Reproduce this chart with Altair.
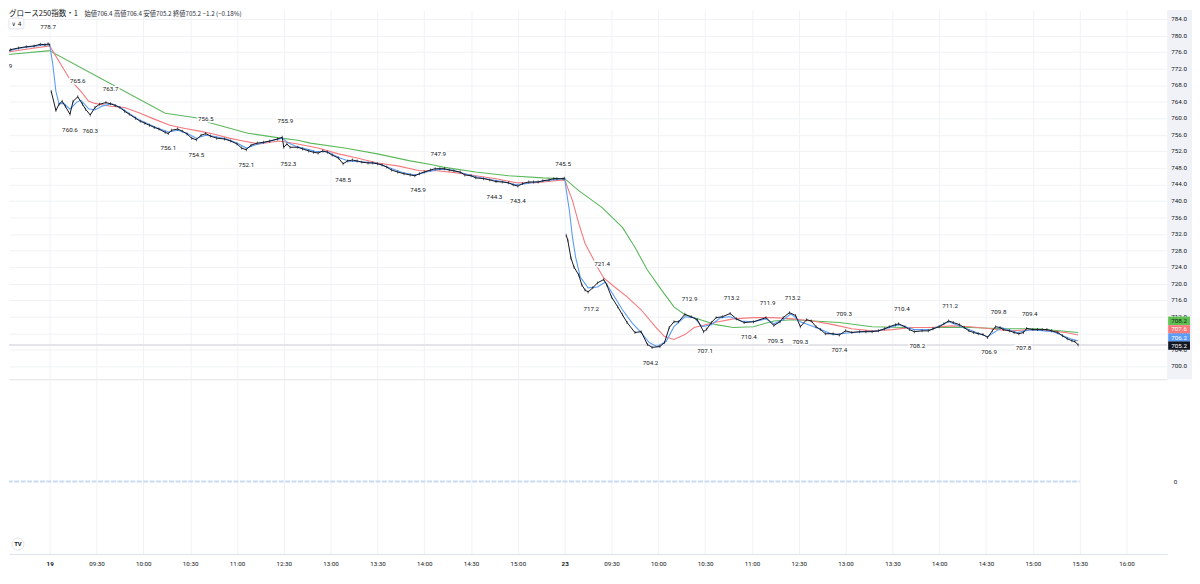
import altair as alt
import pandas as pd

# ---------------- data (minute index: 0 = 19th 09:00, 330 = 23rd 09:00) ----------------
PRICE_T = [-31, -29, -25, -20, -15, -10, -6, -3, -1, 0,
           1, 4, 6, 8, 10, 13, 15, 18, 21, 23, 26, 29, 32, 36, 39, 42, 45, 48, 51, 55, 58, 61, 64, 67, 70, 74, 76, 78,
           82, 85, 88, 91, 94, 97, 100, 103, 107, 112, 116, 120, 123, 126, 129, 133, 137, 141, 146, 149, 150, 152, 154,
           159, 162, 166, 169, 172, 175, 178, 181, 185, 188, 191, 194, 197, 200, 204, 207, 210, 213, 216, 219, 223, 227,
           231, 234, 237, 240, 244, 247, 250, 253, 256, 259, 263, 266, 270, 273, 278, 282, 286, 290, 294, 297, 300, 303,
           307, 310, 313, 316, 320, 323, 325, 329, 330,
           331, 332, 334, 336, 339, 341, 343, 345, 348, 351, 355, 357, 360, 364, 367, 370, 375, 379, 383, 386, 391, 394,
           397, 400, 403, 407, 411, 415, 419, 421, 424, 427, 431, 436, 440, 445, 451, 459, 464, 468, 470, 474, 478, 481,
           485, 488, 491, 494, 497, 502, 506, 510, 514, 519, 523, 527, 531, 535, 538, 542, 544, 548, 551, 554, 559, 563,
           566, 570, 573, 576, 579, 583, 586, 589, 592, 595, 598, 601, 604, 606, 609, 611, 615, 618, 621, 624, 626, 630,
           633, 636, 639, 642, 646, 649, 652, 655, 657, 659]
PRICE = [776.2, 775.9, 776.6, 777.0, 777.3, 777.5, 777.9, 777.8, 778.0, 777.8,
         766.5, 761.9, 763.4, 764.1, 762.9, 761.0, 764.1, 765.2, 763.4, 762.2, 760.8, 762.6, 763.4, 763.8, 763.5, 763.1,
         762.6, 761.7, 761.0, 760.0, 759.3, 758.8, 758.3, 757.8, 757.4, 756.6, 756.3, 757.1,
         757.4, 756.9, 756.2, 755.2, 754.8, 755.9, 756.3, 755.7, 755.2, 755.0, 754.5, 753.8, 752.8, 752.4, 753.5, 754.0,
         754.2, 754.5, 755.0, 755.4, 753.0, 753.8, 753.0,
         753.0, 752.6, 752.1, 751.8, 751.6, 752.1, 751.8, 751.1, 750.4, 749.0, 749.7, 749.9, 749.7, 749.4, 749.2, 749.2,
         749.0, 748.7, 748.2, 747.5, 747.0, 746.6,
         746.3, 746.1, 746.6, 747.0, 747.5, 747.8, 747.8, 747.8, 747.5, 747.3, 747.0, 746.3, 746.1, 745.6, 745.4, 745.1,
         744.7, 744.6, 744.4, 743.9, 743.6, 744.2,
         744.6, 744.6, 744.6, 744.9, 745.1, 745.4, 745.4, 745.4, 745.5,
         731.7, 730.5, 726.2, 724.0, 722.1, 719.7, 718.5, 718.0, 719.0, 720.2, 721.0, 719.7, 716.8, 714.4, 712.5, 710.6,
         708.2, 708.4, 705.3, 704.6, 704.8, 705.8,
         709.4, 710.8, 710.8, 712.6, 712.0, 711.3, 708.4, 709.0, 710.6, 711.8, 712.0, 712.8, 711.5, 710.6, 710.8, 711.8,
         709.9, 710.8, 711.8, 713.0, 712.3, 709.6,
         711.3, 711.0, 709.6, 708.9, 707.9, 707.9, 707.6, 708.6, 708.2, 708.4, 708.4, 708.4, 708.6, 709.1, 709.6, 710.1,
         710.3, 709.6, 708.9, 708.4, 708.6, 708.6,
         709.1, 709.6, 710.3, 711.0, 710.6, 710.1, 709.4, 708.6, 708.2, 707.9, 707.7, 707.0, 708.6, 709.6, 709.4, 708.9,
         708.6, 708.2, 707.9, 708.2, 709.2, 708.9,
         708.9, 708.9, 708.9, 708.6, 708.2, 707.4, 706.7, 706.2, 706.0, 705.2]

BLUE_T = [-31, -25, -20, -15, -10, -5, 0, 2, 4, 6, 9, 13, 17, 20, 25, 29, 34, 40, 46, 52, 58, 64, 70, 76, 82, 88, 94,
          100, 106, 114, 120, 126, 132, 140, 149, 153, 158, 164, 170, 178, 186, 192, 200, 210, 218, 226, 234, 242,
          250, 258, 266, 274, 282, 290, 298, 304, 312, 320, 330,
          331, 333, 335, 337, 340, 345, 351, 356, 360, 367, 373, 379, 384, 389, 395, 400, 407, 413, 418, 424, 430,
          436, 443, 451, 459, 464, 470, 475, 481, 491, 502, 514, 531, 544, 554, 565, 576, 589, 601, 610, 620, 629,
          643, 654, 659]
BLUE = [776.0, 776.4, 776.9, 777.2, 777.4, 777.7, 777.8, 773.0, 766.5, 763.5, 763.6, 762.2, 763.8, 764.4, 762.3, 762.0,
        763.0, 763.5, 762.5, 760.9, 759.5, 758.5, 757.5, 756.7, 757.1, 756.4, 755.2,
        755.9, 755.6, 754.9, 754.0, 752.8, 753.6, 754.4, 755.2, 754.0, 753.2, 752.6, 752.0, 751.9, 750.4, 749.6,
        749.5, 749.1, 748.0, 746.9, 746.3, 747.1,
        747.7, 747.5, 746.6, 745.8, 745.2, 744.7, 744.0, 744.1, 744.6, 745.0, 745.4,
        742.7, 737.7, 731.2, 726.4, 721.6, 719.0, 719.2, 720.4, 718.0, 713.7, 710.6, 708.2, 705.8, 704.8, 706.0,
        709.6, 712.0, 711.8, 709.6, 710.1, 711.8,
        712.0, 711.0, 710.8, 711.5, 710.3, 711.3, 712.7, 710.8, 709.4, 707.7, 708.2, 708.6, 710.1, 708.9, 708.9,
        710.8, 708.9, 707.2, 709.4, 708.2, 708.9,
        708.4, 706.7, 706.2]

RED_T = [-31, -15, 0, 13, 20, 25, 29, 39, 48, 58, 67, 77, 86, 96, 105, 115, 124, 134, 147, 159, 172, 185, 197, 210,
         223, 237, 248, 261, 273, 286, 299, 311, 324, 330, 335, 339, 343, 348, 351, 355, 362, 370, 379, 388, 394,
         400, 407, 413, 426, 438, 451, 464, 476, 489, 502, 514, 527, 540, 552, 565, 578, 590, 603, 616, 629, 641,
         651, 659]
RED = [775.8, 776.7, 777.5, 769.4, 766.5, 764.1, 763.6, 762.9, 762.6, 761.2, 759.8, 758.3, 757.6, 756.9, 756.2,
       755.2, 754.5, 753.8, 754.5, 753.8, 752.8, 751.4, 750.4, 749.2,
       748.5, 747.3, 747.3, 746.8, 746.1, 745.4, 744.4, 744.4, 744.9, 745.1, 740.1, 734.6, 729.8, 726.2, 724.0,
       721.4, 719.2, 716.8, 713.7, 709.6, 707.2,
       706.5, 707.7, 709.4, 710.6, 711.5, 711.8, 711.8, 711.5, 711.0, 710.1, 709.1, 708.6, 708.9, 709.4, 709.4,
       709.8, 709.6, 709.1, 708.6, 708.9, 708.6,
       708.2, 707.6]

GREEN_T = [-31, -1, 0, 74, 96, 102, 127, 148, 159, 167, 189, 210, 231, 246, 252, 273, 294, 316, 330, 339, 354, 367,
           375, 383, 392, 400, 407, 417, 427, 438, 451, 464, 476, 506, 527, 548, 570, 590, 611, 633, 659]
GREEN = [775.3, 776.3, 776.3, 761.2, 760.0, 759.0, 756.4, 755.2, 754.7, 754.0, 752.8, 751.4, 749.7, 748.7, 748.2,
         747.0, 746.1, 745.6, 745.4, 742.5, 738.4, 733.6,
         728.8, 723.3, 718.5, 714.4, 712.5, 711.3, 710.1, 709.4, 709.6, 711.0, 711.3, 710.6, 709.6, 709.4, 709.4,
         709.4, 709.1, 709.1, 708.2]

HL_T = [-29, -1, 18, 13, 39, 26, 100, 76, 94, 151, 126, 153, 249, 188, 236, 285, 300, 329, 354, 347, 410, 385,
        437, 420, 460, 448, 476, 465, 481, 509, 506, 546, 556, 577, 602, 608, 624, 628]
HL_VALUE = [775.9, 778.7, 765.6, 760.6, 763.7, 760.3, 756.5, 756.1, 754.5, 755.9, 752.1, 752.3, 747.9, 748.5, 745.9,
            744.3, 743.4, 745.5, 721.4, 717.2, 712.9, 704.2,
            713.2, 707.1, 711.9, 710.4, 713.2, 709.5, 709.3, 709.3, 707.4, 710.4, 708.2, 711.2, 706.9, 709.8, 707.8,
            709.4]
HL_KIND = ["L", "H", "H", "L", "H", "L", "H", "L", "L", "H", "L", "L", "H", "L", "L", "L", "L", "H", "H", "L",
           "H", "L", "H", "L", "H", "L", "H", "L", "L", "H", "L", "H", "L", "H", "L", "H", "L", "H"]

TIME_TICKS = [0, 30, 60, 90, 120, 150, 180, 210, 240, 270, 300, 330, 360, 390, 420, 450, 480, 510, 540, 570, 600,
              630, 660, 690]
TIME_LABELS = ["19", "09:30", "10:00", "10:30", "11:00", "12:30", "13:00", "13:30", "14:00", "14:30", "15:00",
               "23", "09:30", "10:00", "10:30", "11:00", "12:30", "13:00", "13:30", "14:00", "14:30", "15:00",
               "15:30", "16:00"]
DATE_TICKS = [0, 330]
PRICE_TICKS = [700.0, 704.0, 708.0, 712.0, 716.0, 720.0, 724.0, 728.0, 732.0, 736.0, 740.0, 744.0, 748.0, 752.0,
               756.0, 760.0, 764.0, 768.0, 772.0, 776.0, 780.0, 784.0]

BADGE_VALUES = [708.2, 707.6, 706.2, 705.2]   # green MA, red MA, blue MA, last close
LAST_CLOSE = 705.2

VOL_START, VOL_END, VOL_VALUE = -31, 660, 0

TITLE = "グロース250指数・1"
OHLC = "始値706.4  高値706.4  安値705.2  終値705.2  −1.2 (−0.18%)"
IND_COUNT = "∨ 4"

# ---------------- layout / style ----------------
W, H1, H2 = 1167, 372, 176
XDOM = [-26.07, 716.06]
YDOM = [696.88, 786.16]
FONT = "Roboto"
JP = "Noto Sans CJK JP"
INK = "#131722"
GRID = "#f0f2f5"
SEP = "#e0e3eb"

xs = alt.Scale(domain=XDOM, nice=False, zero=False)
ys = alt.Scale(domain=YDOM, nice=False, zero=False)

x_axis_main = alt.Axis(values=TIME_TICKS, grid=True, gridColor=GRID, gridWidth=1, labels=False, ticks=False,
                       domain=True, domainColor=SEP, title=None)
y_axis_main = alt.Axis(values=PRICE_TICKS, grid=True, gridColor=GRID, gridWidth=1, labels=False, ticks=False,
                       domain=False, orient="right", title=None)


def X(f="t"):
    return alt.X(f"{f}:Q", scale=xs, axis=x_axis_main)


def Y(f="p"):
    return alt.Y(f"{f}:Q", scale=ys, axis=y_axis_main)


one = pd.DataFrame({"k": [0]})

last_rule = alt.Chart(pd.DataFrame({"p": [LAST_CLOSE]})).mark_rule(
    color="#e3e5ea", strokeWidth=2).encode(y=Y())


def ma_line(ts, vs, color):
    return alt.Chart(pd.DataFrame({"t": ts, "p": vs})).mark_line(
        color=color, strokeWidth=1.1, clip=True).encode(x=X(), y=Y())


green = ma_line(GREEN_T, GREEN, "#5cb85c")
red = ma_line(RED_T, RED, "#f47a7e")
blue = ma_line(BLUE_T, BLUE, "#5b9cf6")

price_base = alt.Chart(pd.DataFrame({"t": PRICE_T, "p": PRICE})).transform_calculate(
    seg="datum.t <= 0 ? 0 : (datum.t <= 330 ? 1 : 2)")
price_line = price_base.mark_line(color=INK, strokeWidth=1.0, clip=True).encode(
    x=X(), y=Y(), detail="seg:N")
price_ticks = price_base.mark_tick(orient="vertical", size=3, thickness=0.9, color=INK, clip=True).encode(
    x=X(), y=Y())

hl_df = pd.DataFrame({"t": HL_T, "p": HL_VALUE, "kind": HL_KIND})


def hl_layer(kind, dy, halo):
    props = dict(dy=dy, fontSize=6.3, font=FONT, clip=True)
    if halo:
        props.update(stroke="white", strokeWidth=3, strokeJoin="round", color="white")
    else:
        props.update(color=INK)
    return alt.Chart(hl_df).transform_filter(f"datum.kind == '{kind}'").transform_calculate(
        label="format(datum.p, '.1f')").mark_text(**props).encode(x=X(), y=Y(), text="label:N")


panel = alt.Chart(one).mark_rect(color="#f0f2f7").encode(
    x=alt.value(W), x2=alt.value(W + 25), y=alt.value(0), y2=alt.value(H1))

ytext = alt.Chart(pd.DataFrame({"p": PRICE_TICKS})).transform_calculate(
    label="format(datum.p, '.1f')").mark_text(align="center", baseline="middle", fontSize=6.3, font=FONT,
                                              color=INK).encode(x=alt.value(W + 12), y=Y(), text="label:N")

badge_styles = [("#5cbf4f", INK, -11.8), ("#f7777b", "white", -5.7), ("#5b9cf6", "white", -3.2),
                ("#131722", "white", 0.7)]
badges = []
for v, (bg, fg, sh) in zip(BADGE_VALUES, badge_styles):
    d = alt.Chart(pd.DataFrame({"p": [v]})).transform_calculate(label="format(datum.p, '.1f')")
    badges.append(d.mark_rect(color=bg, yOffset=sh - 4.2, y2Offset=sh + 4.2).encode(
        x=alt.value(W + 1), x2=alt.value(W + 23), y=Y(), y2=alt.Y2("p:Q")))
    badges.append(d.mark_text(color=fg, fontSize=6.3, font=FONT, dy=sh, baseline="middle").encode(
        x=alt.value(W + 12), y=Y(), text="label:N"))

toggle_box = alt.Chart(one).mark_rect(fill="white", stroke=SEP, strokeWidth=1, cornerRadius=2).encode(
    x=alt.value(0), x2=alt.value(15), y=alt.value(8), y2=alt.value(19))
toggle_txt = alt.Chart(pd.DataFrame({"s": [IND_COUNT]})).mark_text(
    fontSize=6, font="DejaVu Sans", color=INK, baseline="middle").encode(
    x=alt.value(7.5), y=alt.value(13.5), text="s:N")
title_txt = alt.Chart(pd.DataFrame({"s": [TITLE]})).mark_text(
    align="left", baseline="middle", fontSize=7.6, font=JP, color=INK).encode(
    x=alt.value(0), y=alt.value(4), text="s:N")
ohlc_txt = alt.Chart(pd.DataFrame({"s": [OHLC]})).mark_text(
    align="left", baseline="middle", fontSize=6.3, font=JP, color="#2a2e39").encode(
    x=alt.value(76), y=alt.value(4), text="s:N")

main = alt.layer(
    last_rule, green, red, blue, price_line, price_ticks,
    hl_layer("H", -14, True), hl_layer("L", 14, True), hl_layer("H", -14, False), hl_layer("L", 14, False),
    panel, ytext, *badges, toggle_box, toggle_txt, title_txt, ohlc_txt
).properties(width=W, height=H1)

# ---------------- lower (volume) pane ----------------
labels_js = "[" + ",".join(f"'{s}'" for s in TIME_LABELS) + "]"
ticks_js = "[" + ",".join(str(v) for v in TIME_TICKS) + "]"
date_test = " || ".join(f"datum.value == {d}" for d in DATE_TICKS)

x_axis_low = alt.Axis(values=TIME_TICKS, labelExpr=f"{labels_js}[indexof({ticks_js}, datum.value)]",
                      grid=True, gridColor=GRID, ticks=False, domain=True, domainColor=SEP,
                      labelFontSize=6.3, labelColor=INK, labelPadding=7, labelFont=FONT, labelOverlap=False,
                      labelFlush=False,
                      labelFontWeight={"condition": {"test": date_test, "value": "bold"}, "value": "normal"},
                      title=None)
y_axis_low = alt.Axis(values=[0], orient="right", grid=False, ticks=False, domain=False, labelFontSize=6.3,
                      labelColor=INK, labelPadding=6, labelFont=FONT, title=None)

vol = alt.Chart(pd.DataFrame({"t": [VOL_START], "t2": [VOL_END], "v": [VOL_VALUE]})).mark_rule(
    color="#c9daf3", strokeWidth=2, strokeDash=[5, 1.5], clip=True).encode(
    x=alt.X("t:Q", scale=xs, axis=x_axis_low), x2="t2:Q",
    y=alt.Y("v:Q", scale=alt.Scale(domain=[-0.709, 1], nice=False, zero=False), axis=y_axis_low))

logo_c = alt.Chart(one).mark_circle(size=150, fill="white", stroke=SEP, strokeWidth=1, opacity=1).encode(
    x=alt.value(9), y=alt.value(H2 - 10))
logo_t = alt.Chart(pd.DataFrame({"s": ["TV"]})).mark_text(
    fontSize=6, fontWeight="bold", font=FONT, color=INK, baseline="middle").encode(
    x=alt.value(9), y=alt.value(H2 - 10), text="s:N")

lower = alt.layer(vol, logo_c, logo_t).properties(width=W, height=H2)

chart = alt.vconcat(main, lower, spacing=0).properties(
    padding=0, background="white").configure_view(strokeWidth=0)

chart.save("out.html", embed_options={"renderer": "svg", "actions": False})
